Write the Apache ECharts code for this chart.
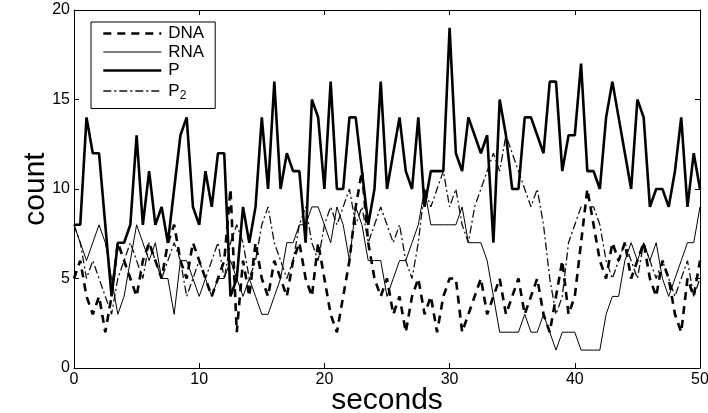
<!DOCTYPE html>
<html>
<head>
<meta charset="utf-8">
<script src="https://cdn.jsdelivr.net/npm/echarts@6/dist/echarts.min.js"></script>
<style>
  html, body { margin: 0; padding: 0; background: #fff; }
  #chart { width: 708px; height: 413px; }
</style>
</head>
<body>
<div id="chart"></div>
<script>
// samples every half second, 0..50 s
const step = 0.5;

const dna = [
  5, 6, 4, 3, 4, 2, 4, 7, 6, 5, 4, 6, 7, 6, 5, 7, 8, 6, 5, 7,
  6, 5, 4, 5, 6, 10, 2, 6, 4, 7, 5, 4, 6, 5, 4, 6, 7, 5, 4, 7,
  5, 3, 2, 4, 6, 9, 11, 7, 5, 4, 5, 3, 4, 2, 4, 5, 3, 4, 2, 4,
  5, 5, 2, 3, 4, 5, 3, 4, 5, 3, 4, 5, 3, 4, 5, 3, 2, 4, 6, 3,
  4, 7, 10, 8, 6, 5, 7, 6, 7, 5, 6, 7, 5, 4, 6, 5, 3, 2, 5, 4,
  6
];

const rna = [
  8, 7, 6, 7, 8, 7, 5, 3, 4, 6, 8, 7, 6, 7, 5, 5, 3, 6, 6, 5,
  4, 5, 4, 5, 5, 6, 5, 4, 5, 4, 3, 3, 4, 5, 7, 7, 8, 8, 9, 9,
  8, 7, 9, 8, 6, 9, 8, 6, 6, 6, 4, 5, 6, 6, 7, 8, 10, 8, 8, 8,
  8, 8, 9, 7, 7, 7, 6, 4, 2, 2, 2, 2, 3, 2, 2, 3, 2, 1, 2, 2,
  2, 1, 1, 1, 1, 3, 4, 4, 6, 7, 6, 7, 6, 7, 5, 4, 5, 6, 7, 7,
  9
];

const protein = [
  8, 8, 14, 12, 12, 8, 4, 7, 7, 8, 13, 8, 11, 8, 9, 7, 10, 13, 14, 9,
  8, 11, 9, 12, 12, 4, 5, 9, 7, 9, 14, 10, 16, 10, 12, 11, 11, 7, 15, 14,
  10, 16, 10, 10, 14, 14, 11, 8, 10, 16, 10, 12, 14, 11, 10, 14, 9, 11, 11, 11,
  19, 12, 11, 14, 13, 12, 13, 7, 15, 13, 10, 10, 14, 14, 13, 12, 16, 16, 11, 13,
  13, 17, 11, 11, 10, 14, 16, 14, 12, 10, 15, 14, 9, 10, 10, 9, 11, 14, 9, 12,
  10
];

const dimer = [
  8, 7, 5, 6, 5, 4, 3, 5, 6, 7, 6, 5, 7, 6, 5, 6, 7, 6, 4, 5,
  6, 5, 6, 7, 5, 7, 8, 7, 5, 6, 8, 9, 7, 6, 5, 6, 8, 9, 7, 6,
  8, 9, 8, 9, 10, 8, 9, 7, 8, 9, 8, 7, 8, 6, 5, 7, 10, 9, 10, 11,
  9, 10, 8, 7, 9, 10, 11, 12, 11, 13, 12, 11, 10, 9, 10, 8, 5, 3, 4, 7,
  8, 9, 9, 9, 8, 6, 5, 6, 7, 6, 5, 7, 6, 5, 6, 5, 4, 5, 6, 4,
  5
];

const xTicks = [0, 10, 20, 30, 40, 50];
const yTicks = [0, 5, 10, 15, 20];

const toPairs = (values) => values.map((v, i) => [i * step, v]);

const chart = echarts.init(document.getElementById("chart"), null, { renderer: "canvas" });

const font = "Liberation Sans, Arial, Helvetica, sans-serif";

const styles = {
  DNA: { color: "#000", width: 2.6, type: [8, 6] },
  RNA: { color: "#000", width: 1, type: "solid" },
  P: { color: "#000", width: 2.6, type: "solid" },
  P2: { color: "#111", width: 1.3, type: [8, 3, 2, 3] },
};

const boxAxisX = (position, showLabel) => ({
  type: "value",
  position: position,
  min: xTicks[0],
  max: xTicks[xTicks.length - 1],
  interval: 10,
  axisLine: { show: true, onZero: false, lineStyle: { color: "#000", width: 1 } },
  axisTick: { show: true, inside: true, length: 5, lineStyle: { color: "#000" } },
  axisLabel: { show: showLabel, color: "#000", fontSize: 16, fontFamily: font, margin: 4 },
  splitLine: { show: false },
});

const boxAxisY = (position, showLabel) => ({
  type: "value",
  position: position,
  min: yTicks[0],
  max: yTicks[yTicks.length - 1],
  interval: 5,
  axisLine: { show: true, onZero: false, lineStyle: { color: "#000", width: 1 } },
  axisTick: { show: true, inside: true, length: 5, lineStyle: { color: "#000" } },
  axisLabel: { show: showLabel, color: "#000", fontSize: 16, fontFamily: font, margin: 4 },
  splitLine: { show: false },
});

const xBottom = Object.assign(boxAxisX("bottom", true), {
  name: "seconds",
  nameLocation: "middle",
  nameGap: 18,
  nameMoveOverlap: false,
  nameTextStyle: { color: "#000", fontSize: 30, fontFamily: font, verticalAlign: "top" },
});
const yLeft = Object.assign(boxAxisY("left", true), {
  name: "count",
  nameLocation: "middle",
  nameGap: 23,
  nameMoveOverlap: false,
  nameTextStyle: { color: "#000", fontSize: 30, fontFamily: font },
});

const legendNames = ["DNA", "RNA", "P", "P2"];

const option = {
  backgroundColor: "#fff",
  animation: false,
  grid: { left: 74, right: 8, top: 10, bottom: 45, outerBoundsMode: "none", containLabel: false },
  legend: {
    orient: "vertical",
    left: 91,
    top: 22,
    padding: [3, 11, 7, 11],
    itemGap: 1.5,
    itemWidth: 58,
    itemHeight: 14,
    backgroundColor: "#fff",
    borderColor: "#000",
    borderWidth: 1,
    borderRadius: 0,
    itemStyle: { opacity: 0 },
    textStyle: {
      color: "#000",
      fontSize: 17,
      lineHeight: 17,
      fontFamily: font,
      padding: [0, 0, 0, 2],
      rich: { sub: { fontSize: 12, lineHeight: 17, fontFamily: font, color: "#000", padding: [9, 0, 0, 0] } },
    },
    formatter: (name) => (name === "P2" ? "P{sub|2}" : name),
    data: legendNames.map((name) => ({ name: name, lineStyle: styles[name] })),
  },
  xAxis: [xBottom, boxAxisX("top", false)],
  yAxis: [yLeft, boxAxisY("right", false)],
  series: [
    {
      name: "DNA",
      type: "line",
      symbol: "none",
      data: toPairs(dna),
      lineStyle: styles.DNA,
      itemStyle: { color: "#000" },
      z: 3,
    },
    {
      name: "RNA",
      type: "line",
      symbol: "none",
      data: toPairs(rna),
      lineStyle: styles.RNA,
      itemStyle: { color: "#000" },
      z: 2,
    },
    {
      name: "P",
      type: "line",
      symbol: "none",
      data: toPairs(protein),
      lineStyle: styles.P,
      itemStyle: { color: "#000" },
      z: 4,
    },
    {
      name: "P2",
      type: "line",
      symbol: "none",
      data: toPairs(dimer),
      lineStyle: styles.P2,
      itemStyle: { color: "#111" },
      z: 1,
    },
  ],
};

chart.setOption(option);
</script>
</body>
</html>
